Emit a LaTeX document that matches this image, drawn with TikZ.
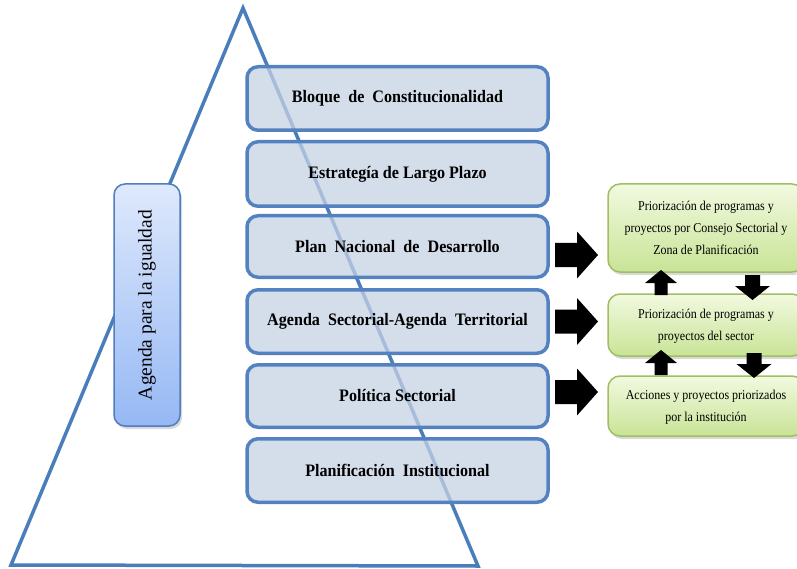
\documentclass[tikz,border=0pt]{standalone}
\usepackage{fontspec}
\setmainfont{Liberation Serif}
\usetikzlibrary{shadows}
\definecolor{triblue}{RGB}{74,126,187}
\definecolor{boxborder}{RGB}{84,130,192}
\definecolor{boxfill}{RGB}{198,210,227}
\definecolor{agtop}{RGB}{222,233,252}
\definecolor{agbot}{RGB}{150,184,244}
\definecolor{agborder}{RGB}{80,125,190}
\definecolor{grtop}{RGB}{242,249,224}
\definecolor{grbot}{RGB}{200,228,150}
\definecolor{grborder}{RGB}{160,190,100}
\newcommand{\lvltext}[1]{\scalebox{0.92}[1]{#1}}
\newcommand{\grtext}[1]{\scalebox{0.89}[1]{\begin{tabular}{@{}c@{}}#1\end{tabular}}}
\tikzset{
  level/.style={draw=boxborder, line width=3.5pt, fill=boxfill, fill opacity=0.75, text opacity=1,
    rounded corners=11pt, minimum width=301pt, inner sep=0pt, outer sep=0pt,
    font=\fontsize{17.5}{20}\selectfont\bfseries},
  agenda/.style={draw=agborder, line width=1.5pt, top color=agtop, bottom color=agbot,
    rounded corners=11pt, minimum width=242pt, minimum height=66pt, inner sep=0pt, outer sep=0pt,
    rotate=90, font=\fontsize{19.5}{22}\selectfont,
    drop shadow={opacity=0.3, shadow xshift=2pt, shadow yshift=-3pt}},
  greenbox/.style={draw=grborder, line width=1.5pt, top color=grtop, bottom color=grbot,
    rounded corners=12pt, minimum width=196pt, inner sep=0pt, outer sep=0pt, align=center,
    font=\fontsize{13.5}{22.5}\selectfont,
    drop shadow={opacity=0.3, shadow xshift=2pt, shadow yshift=-3pt}},
  tri/.style={draw=triblue, line width=3.5pt, line join=miter},
  pics/rarr/.style={code={\fill[black] (0,-12) -- (22,-12) -- (22,-23.5) -- (43,0) -- (22,23.5) -- (22,12) -- (0,12) -- cycle;}},
  pics/uarr/.style={code={\fill[black] (0,0) -- (16,13) -- (6.5,13) -- (6.5,25) -- (-6.5,25) -- (-6.5,13) -- (-16,13) -- cycle;}},
  pics/darr/.style={code={\fill[black] (0,0) -- (17.5,-14) -- (7.5,-14) -- (7.5,-25) -- (-7.5,-25) -- (-7.5,-14) -- (-17.5,-14) -- cycle;}}
}
\begin{document}
\begin{tikzpicture}[x=1pt,y=-1pt]
\useasboundingbox (0,0) rectangle (797,569);
% triangle
\coordinate (apex) at (243,8);
\coordinate (bl) at (11,565);
\coordinate (br) at (478,566);
\draw[tri] (bl) -- (apex) -- (br) -- cycle;
% levels
\node[level, minimum height=63.5pt] (b1) at (397.5,98.5) {\lvltext{Bloque\ \ de\ \ Constitucionalidad}};
\node[level, minimum height=64.5pt] (b2) at (397.5,174) {\lvltext{Estrategía de Largo Plazo}};
\node[level, minimum height=61.5pt] (b3) at (397.5,246.5) {\lvltext{Plan\ \ Nacional\ \ de\ \ Desarrollo}};
\node[level, minimum height=63.5pt] (b4) at (397.5,321.5) {\lvltext{Agenda\ \ Sectorial-Agenda\ \ Territorial}};
\node[level, minimum height=62.5pt] (b5) at (397.5,396) {\lvltext{Política Sectorial}};
\node[level, minimum height=63.5pt] (b6) at (397.5,470.5) {\lvltext{Planificación\ \ Institucional}};
% agenda
\node[agenda] (ag) at (147,305) {Agenda\ para\ la\ igualdad};
% green boxes
\node[greenbox, minimum height=88pt] (g1) at (706,228) {\grtext{Priorización de programas y\\proyectos por Consejo Sectorial y\\Zona de Planificación}};
\node[greenbox, minimum height=62pt] (g2) at (706,325) {\grtext{Priorización de programas y\\proyectos del sector}};
\node[greenbox, minimum height=60pt] (g3) at (706,406) {\grtext{Acciones y proyectos priorizados\\por la institución}};
% black arrows
\pic at (555,255) {rarr};
\pic at (555,321.5) {rarr};
\pic at (555,392) {rarr};
\pic at (661,270) {uarr};
\pic at (752.5,300) {darr};
\pic at (661,350) {uarr};
\pic at (754,378) {darr};
\end{tikzpicture}
\end{document}
